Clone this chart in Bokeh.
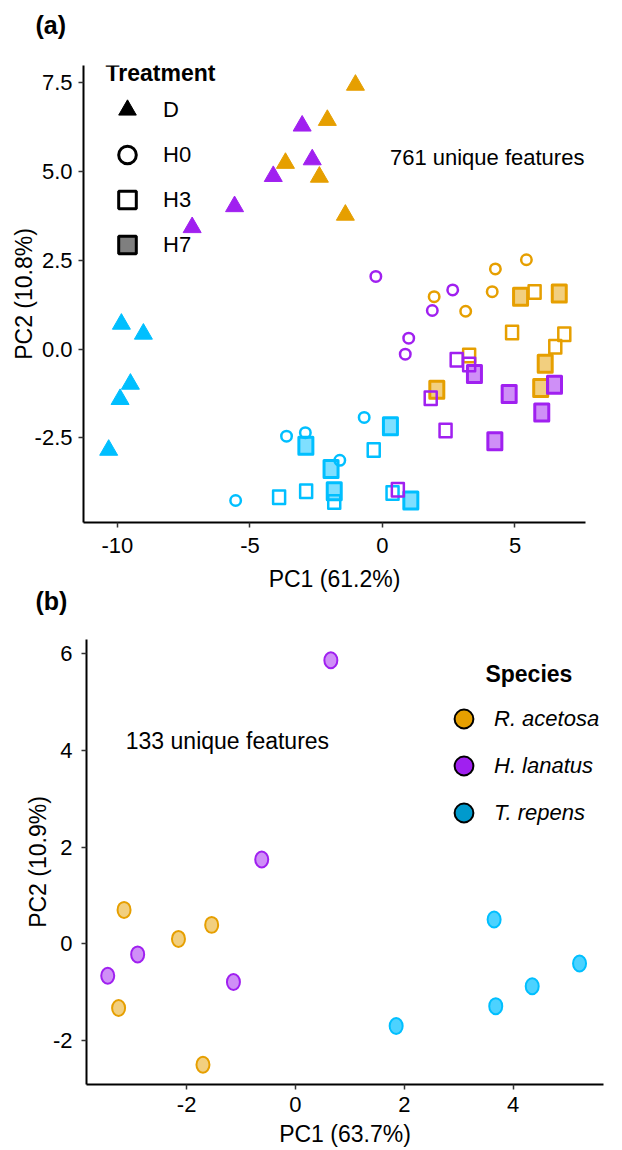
from bokeh.plotting import figure
from bokeh.models import Legend, LegendItem, Label, FixedTicker, PrintfTickFormatter, Title
from bokeh.embed import file_html
from bokeh.resources import INLINE

FONT = "Liberation Sans"
NAN = float("nan")

species_names = ["R. acetosa", "H. lanatus", "T. repens"]
species_colors = ["#E69F00", "#A020F0", "#00BFFF"]
legend_fill_b = ["#E69F00", "#A020F0", "#009ACD"]
treatments = ["D", "H0", "H3", "H7"]

# ---------------- Panel (a): 761 unique features ----------------
d_species = ["R. acetosa"] * 5 + ["H. lanatus"] * 5 + ["T. repens"] * 5
d_pc1 = [-1.02, -2.08, -3.66, -2.38, -1.40,
         -3.03, -2.65, -4.12, -5.58, -7.18,
         -9.85, -9.02, -9.51, -9.90, -10.33]
d_pc2 = [7.44, 6.45, 5.24, 4.85, 3.78,
         6.29, 5.34, 4.87, 4.02, 3.43,
         0.71, 0.43, -0.98, -1.41, -2.84]

h0_species = d_species
h0_pc1 = [1.95, 4.26, 5.43, 4.14, 3.14,
          -0.25, 2.65, 1.88, 0.99, 0.86,
          -3.62, -2.91, -0.69, -1.61, -5.54]
h0_pc2 = [1.48, 2.26, 2.52, 1.62, 1.07,
          2.05, 1.67, 1.09, 0.31, -0.14,
          -2.45, -2.35, -1.92, -3.13, -4.26]

h3_species = d_species
h3_pc1 = [5.74, 4.89, 6.86, 6.52, 3.27,
          2.80, 3.27, 1.82, 2.38, 0.58,
          -3.90, -2.88, -1.82, -0.33, 0.38]
h3_pc2 = [1.61, 0.47, 0.42, 0.07, -0.18,
          -0.30, -0.43, -1.38, -2.29, -3.96,
          -4.17, -4.00, -4.30, -2.84, -4.05]

h7_species = d_species
h7_pc1 = [5.21, 6.67, 6.14, 5.97, 2.05,
          3.47, 4.78, 6.49, 6.01, 4.24,
          0.30, -2.89, -1.94, -1.82, 1.07]
h7_pc2 = [1.48, 1.57, -0.41, -1.09, -1.14,
          -0.70, -1.26, -1.00, -1.78, -2.59,
          -2.17, -2.72, -3.37, -4.00, -4.26]

a_x_ticks = [-10, -5, 0, 5]
a_y_ticks = [-2.5, 0.0, 2.5, 5.0, 7.5]

# ---------------- Panel (b): 133 unique features ----------------
b_species = ["R. acetosa"] * 5 + ["H. lanatus"] * 5 + ["T. repens"] * 5
b_pc1 = [-3.15, -2.15, -1.54, -3.25, -1.70,
         0.65, -0.62, -2.90, -3.45, -1.14,
         3.65, 5.22, 4.35, 3.68, 1.85]
b_pc2 = [0.70, 0.10, 0.39, -1.33, -2.50,
         5.86, 1.74, -0.22, -0.66, -0.79,
         0.50, -0.41, -0.88, -1.29, -1.70]
b_x_ticks = [-2, 0, 2, 4]
b_y_ticks = [-2, 0, 2, 4, 6]


def style_axes(p, xlab, ylab, x_ticks, y_ticks, ylab_std, yl_std, xlab_std, xl_std):
    p.grid.visible = False
    p.outline_line_color = None
    p.background_fill_color = "white"
    p.border_fill_color = "white"
    p.xaxis.ticker = FixedTicker(ticks=x_ticks)
    p.yaxis.ticker = FixedTicker(ticks=y_ticks)
    p.xaxis.axis_label = xlab
    p.yaxis.axis_label = ylab
    for ax in (p.xaxis[0], p.yaxis[0]):
        ax.axis_line_width = 2
        ax.axis_line_color = "black"
        ax.major_tick_line_width = 1.5
        ax.major_tick_line_color = "#333333"
        ax.major_tick_out = 5
        ax.major_tick_in = 0
        ax.minor_tick_line_color = None
        ax.major_label_text_font = FONT
        ax.major_label_text_font_size = "22px"
        ax.major_label_text_color = "black"
        ax.axis_label_text_font = FONT
        ax.axis_label_text_font_size = "23px"
        ax.axis_label_text_font_style = "normal"
        ax.axis_label_text_color = "black"
    p.yaxis[0].major_label_standoff = ylab_std
    p.yaxis[0].axis_label_standoff = yl_std
    p.xaxis[0].major_label_standoff = xlab_std
    p.xaxis[0].axis_label_standoff = xl_std


# ---------------- figure (a) ----------------
pa = figure(width=615, height=617, x_range=(-11.28, 7.66), y_range=(-4.88, 7.99),
            output_backend="svg", toolbar_location=None,
            min_border_left=83, min_border_right=30, min_border_top=65, min_border_bottom=95)
style_axes(pa, "PC1 (61.2%)", "PC2 (10.8%)", a_x_ticks, a_y_ticks, 6, -5, 10, 10)
pa.yaxis[0].formatter = PrintfTickFormatter(format="%.1f")
pa.xaxis[0].formatter = PrintfTickFormatter(format="%d")

pa.title.text = "(a)\n"
pa.title.align = "left"
pa.title.vertical_align = "top"
pa.title.offset = -48
pa.title.standoff = -6
pa.title.text_font = FONT
pa.title.text_font_size = "25px"
pa.title.text_font_style = "bold"
pa.title.text_color = "black"

tr_data = {
    "D": (d_pc1, d_pc2, d_species),
    "H0": (h0_pc1, h0_pc2, h0_species),
    "H3": (h3_pc1, h3_pc2, h3_species),
    "H7": (h7_pc1, h7_pc2, h7_species),
}

draw_species = ["T. repens", "R. acetosa", "H. lanatus"]
draw_treat = ["D", "H3", "H7", "H0"]
for sp in draw_species:
    col = species_colors[species_names.index(sp)]
    for tr in draw_treat:
        xs, ys, sps = tr_data[tr]
        gx = [x for x, s in zip(xs, sps) if s == sp]
        gy = [y for y, s in zip(ys, sps) if s == sp]
        if tr == "D":
            pa.scatter(gx, gy, marker="triangle", size=18, fill_color=col,
                       line_color=col, line_width=1)
        elif tr == "H0":
            pa.scatter(gx, gy, marker="circle", size=10.5, fill_color=None,
                       line_color=col, line_width=2.5)
        elif tr == "H3":
            pa.rect(gx, gy, width=12, height=13.5, width_units="screen",
                    height_units="screen", fill_color=None, line_color=col,
                    line_width=2.5, line_join="round")
        else:
            pa.rect(gx, gy, width=14, height=17, width_units="screen",
                    height_units="screen", fill_color=col, fill_alpha=0.5,
                    line_color=col, line_width=3, line_join="round")

leg_r = {
    "D": pa.scatter(x=[NAN], y=[NAN], marker="triangle", fill_color="black", line_color="black"),
    "H0": pa.scatter(x=[NAN], y=[NAN], marker="circle", fill_color=None, line_color="black", line_width=3),
    "H3": pa.scatter(x=[NAN], y=[NAN], marker="square", fill_color=None, line_color="black", line_width=3),
    "H7": pa.scatter(x=[NAN], y=[NAN], marker="square", fill_color="#7F7F7F", line_color="black", line_width=3),
}
leg_a = Legend(items=[LegendItem(label=t, renderers=[leg_r[t]]) for t in treatments],
               location=(22, 255), orientation="vertical",
               glyph_width=44, glyph_height=45, spacing=0, label_standoff=14,
               label_text_font=FONT, label_text_font_size="22px", label_height=20,
               label_text_color="black",
               padding=0, margin=0, border_line_color=None, background_fill_alpha=0)
pa.add_layout(leg_a)
pa.add_layout(Label(x=-10.45, y=7.78, text="Treatment", text_font=FONT, text_font_size="23px",
                    text_font_style="bold", text_align="left", text_baseline="middle",
                    text_color="black"))

pa.add_layout(Label(x=3.95, y=5.4, text="761 unique features", text_font=FONT,
                    text_font_size="22px", text_align="center", text_baseline="middle",
                    text_color="black"))

title_b = Title(text="(b)", align="left", vertical_align="top", offset=-48, standoff=-15,
                text_font=FONT, text_font_size="25px", text_font_style="bold",
                text_color="black")
pa.add_layout(title_b, "below")

# ---------------- figure (b) ----------------
pb = figure(width=615, height=532, x_range=(-3.84, 5.66), y_range=(-2.91, 6.29),
            output_backend="svg", toolbar_location=None,
            min_border_left=86, min_border_right=12, min_border_top=22, min_border_bottom=65)
style_axes(pb, "PC1 (63.7%)", "PC2 (10.9%)", b_x_ticks, b_y_ticks, 9, -1, 7, 6)
pb.xaxis[0].formatter = PrintfTickFormatter(format="%d")
pb.yaxis[0].formatter = PrintfTickFormatter(format="%d")

b_fill_alpha = [0.5, 0.5, 0.7]
for i, sp in enumerate(species_names):
    gx = [x for x, s in zip(b_pc1, b_species) if s == sp]
    gy = [y for y, s in zip(b_pc2, b_species) if s == sp]
    pb.ellipse(gx, gy, width=13, height=16, width_units="screen", height_units="screen",
               fill_color=species_colors[i], fill_alpha=b_fill_alpha[i],
               line_color=species_colors[i], line_width=2)

leg_b_r = [pb.scatter(x=[NAN], y=[NAN], marker="circle", fill_color=legend_fill_b[i],
                      line_color="black", line_width=2) for i in range(3)]
leg_b = Legend(items=[LegendItem(label=species_names[i], renderers=[leg_b_r[i]]) for i in range(3)],
               location=(354, 248), orientation="vertical",
               glyph_width=47, glyph_height=47, spacing=0, label_standoff=7,
               label_text_font=FONT, label_text_font_size="22px", label_text_font_style="italic",
               label_text_color="black",
               label_height=20, padding=0, margin=0, border_line_color=None,
               background_fill_alpha=0)
pb.add_layout(leg_b)

pb.add_layout(Label(x=3.49, y=5.58, text="Species", text_font=FONT, text_font_size="23px",
                    text_font_style="bold", text_align="left", text_baseline="middle",
                    text_color="black"))
pb.add_layout(Label(x=-1.25, y=4.2, text="133 unique features", text_font=FONT,
                    text_font_size="23px", text_align="center", text_baseline="middle",
                    text_color="black"))

open("out.html", "w").write(file_html([pa, pb], INLINE))
